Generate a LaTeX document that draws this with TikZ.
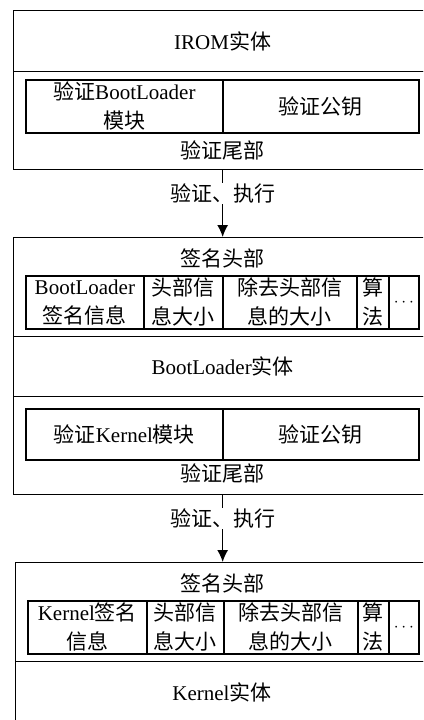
\documentclass[tikz,border=0pt]{standalone}
\usepackage{fontspec}
\setmainfont{Liberation Serif}
\newfontfamily\cjk{Noto Sans CJK SC}
\newcommand{\zh}[1]{{\cjk #1}}
\newcommand{\mydots}{{\fontsize{19}{19}\selectfont$\cdots$}}
\usetikzlibrary{arrows.meta}
\begin{document}
\begin{tikzpicture}[x=1pt,y=-1pt,
  outer/.style={draw, line width=1.3pt, inner sep=0pt, anchor=north west, font=\fontsize{21}{29}\selectfont},
  cell/.style={draw, line width=1.8pt, inner sep=0pt, anchor=north west, align=center, font=\fontsize{21}{29}\selectfont},
  lbl/.style={inner sep=1pt, font=\fontsize{21}{29}\selectfont},
  arr/.style={line width=1.3pt, -{Latex[length=12pt,width=11pt]}}]
\useasboundingbox (0,0) rectangle (423,720);
\clip (0,0) rectangle (423,720);
% Box 1
\node[outer, minimum width=418pt, minimum height=61pt] (irom) at (13,10) {IROM\zh{实体}};
\node[outer, minimum width=418pt, minimum height=98pt] (tail1) at (13,71) {};
\node[cell, minimum width=197pt, minimum height=53pt] (c11) at (25,79) {\zh{验证}BootLoader\\\zh{模块}};
\node[cell, minimum width=196pt, minimum height=53pt] (c12) at (222,79) {\zh{验证公钥}};
\node[lbl] (t1) at (222,150) {\zh{验证尾部}};
% Box 2
\node[outer, minimum width=418pt, minimum height=99pt] (head2) at (13,237) {};
\node[lbl] (h2) at (222,258) {\zh{签名头部}};
\node[cell, minimum width=118pt, minimum height=53pt] (c21) at (25,275) {BootLoader\\\zh{签名信息}};
\node[cell, minimum width=79pt, minimum height=53pt] (c22) at (143,275) {\zh{头部信}\\\zh{息大小}};
\node[cell, minimum width=134pt, minimum height=53pt] (c23) at (222,275) {\zh{除去头部信}\\\zh{息的大小}};
\node[cell, minimum width=32pt, minimum height=53pt] (c24) at (356,275) {\zh{算}\\\zh{法}};
\node[cell, minimum width=30pt, minimum height=53pt] (c25) at (388,275) {\mydots};
\node[outer, minimum width=418pt, minimum height=60pt] (body2) at (13,336) {BootLoader\zh{实体}};
\node[outer, minimum width=418pt, minimum height=98pt] (tail2) at (13,396) {};
\node[cell, minimum width=197pt, minimum height=51pt] (c31) at (25,408) {\zh{验证}Kernel\zh{模块}};
\node[cell, minimum width=196pt, minimum height=51pt] (c32) at (222,408) {\zh{验证公钥}};
\node[lbl] (t2) at (222,473) {\zh{验证尾部}};
% Box 3
\node[outer, minimum width=418pt, minimum height=99pt] (head3) at (15,562) {};
\node[lbl] (h3) at (222,583) {\zh{签名头部}};
\node[cell, minimum width=119pt, minimum height=53pt] (c41) at (27,600) {Kernel\zh{签名}\\\zh{信息}};
\node[cell, minimum width=77pt, minimum height=53pt] (c42) at (146,600) {\zh{头部信}\\\zh{息大小}};
\node[cell, minimum width=134pt, minimum height=53pt] (c43) at (223,600) {\zh{除去头部信}\\\zh{息的大小}};
\node[cell, minimum width=31pt, minimum height=53pt] (c44) at (357,600) {\zh{算}\\\zh{法}};
\node[cell, minimum width=30pt, minimum height=53pt] (c45) at (388,600) {\mydots};
\node[outer, minimum width=418pt, minimum height=80pt] (body3) at (15,661) {};
\node[lbl] (b3) at (222,692) {Kernel\zh{实体}};
% Arrows
\draw[arr] (tail1.south) -- (head2.north) node[lbl, fill=white, pos=0.35] (a1) {\zh{验证、执行}};
\draw[arr] (tail2.south) -- (tail2.south |- head3.north) node[lbl, fill=white, pos=0.35] (a2) {\zh{验证、执行}};
\end{tikzpicture}
\end{document}
